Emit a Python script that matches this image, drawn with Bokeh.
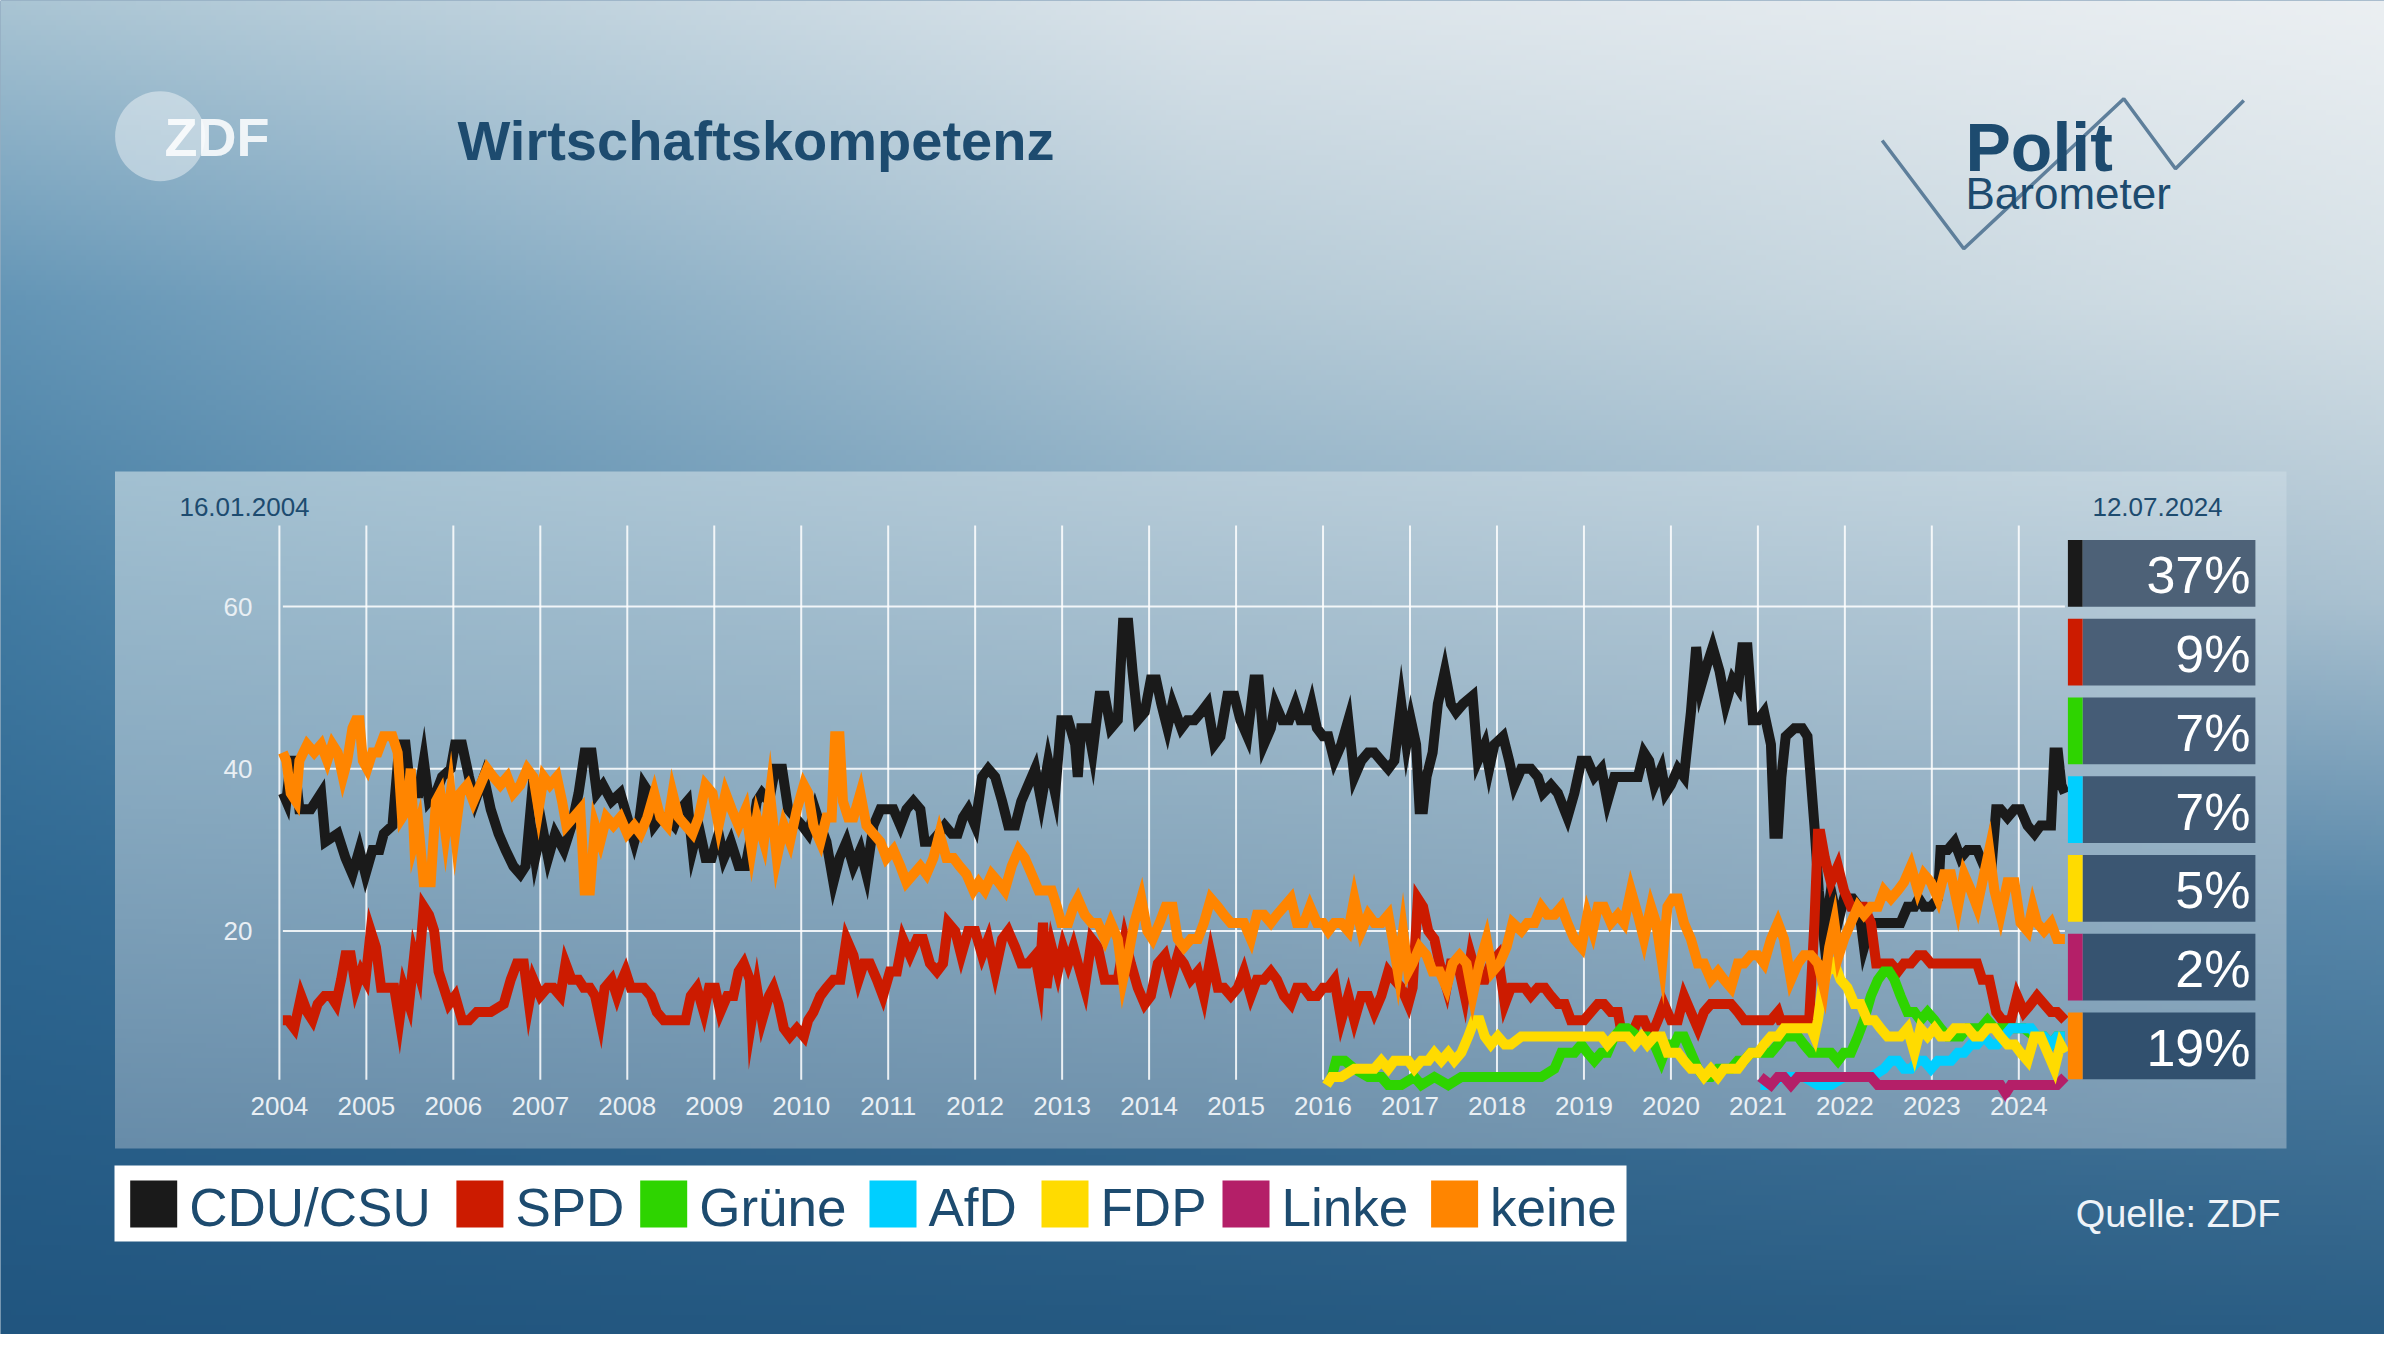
import numpy as np
from bokeh.plotting import figure
from bokeh.models import Range1d, LinearAxis, FixedTicker
from bokeh.core.properties import value
from bokeh.embed import file_html
from bokeh.resources import INLINE

# ---------------- data ----------------
TITLE = "Wirtschaftskompetenz"
FIRST_DATE = "16.01.2004"
LAST_DATE = "12.07.2024"
SOURCE = "Quelle: ZDF"

parties = ["CDU/CSU", "SPD", "Grüne", "AfD", "FDP", "Linke", "keine"]
party_colors = ["#1a1a1a", "#cc1b00", "#2ed400", "#00cfff", "#ffdb00", "#b41f68", "#ff8500"]

year_ticks = list(range(2004, 2025))
value_ticks = [20, 40, 60]

# (decimal year, percent)
cdu = [
    (2004.04, 37), (2004.08, 36), (2004.13, 41), (2004.17, 41), (2004.23, 35), (2004.36, 35), (2004.48, 37),
    (2004.53, 31),
    (2004.67, 32), (2004.76, 29), (2004.84, 27), (2004.92, 30), (2004.99, 27), (2005.07, 30), (2005.15, 30),
    (2005.20, 32), (2005.30, 33), (2005.38, 43), (2005.45, 43), (2005.51, 37), (2005.60, 37), (2005.66, 41),
    (2005.72, 36), (2005.80, 37), (2005.87, 39), (2005.97, 40), (2006.02, 43), (2006.10, 43), (2006.18, 39),
    (2006.25, 36), (2006.35, 39), (2006.43, 35), (2006.52, 32), (2006.60, 30), (2006.69, 28), (2006.77, 27),
    (2006.83, 28), (2006.88, 34), (2006.94, 29), (2007.02, 33), (2007.09, 29), (2007.17, 32), (2007.27, 30),
    (2007.36, 33), (2007.44, 37), (2007.51, 42), (2007.59, 42), (2007.65, 37), (2007.72, 38), (2007.82, 36),
    (2007.92, 37),
    (2008.00, 34), (2008.08, 31), (2008.13, 33), (2008.19, 38), (2008.25, 37), (2008.31, 33), (2008.38, 34),
    (2008.46, 34), (2008.54, 33), (2008.61, 35), (2008.69, 36), (2008.75, 30), (2008.82, 33), (2008.90, 29),
    (2008.97, 29), (2009.05, 32), (2009.11, 29), (2009.19, 31), (2009.28, 28), (2009.36, 28), (2009.43, 32),
    (2009.49, 36), (2009.55, 37), (2009.63, 36), (2009.70, 40), (2009.78, 40), (2009.85, 35), (2009.93, 34),
    (2010.01, 33), (2010.08, 32), (2010.16, 35), (2010.22, 33), (2010.29, 31), (2010.37, 26), (2010.44, 29),
    (2010.52, 31), (2010.60, 28), (2010.68, 30), (2010.75, 27), (2010.83, 33), (2010.91, 35), (2010.98, 35),
    (2011.06, 35), (2011.14, 33), (2011.21, 35), (2011.29, 36), (2011.37, 35), (2011.42, 31), (2011.50, 31),
    (2011.58, 32), (2011.65, 33), (2011.73, 32), (2011.80, 32), (2011.86, 34), (2011.92, 35),
    (2012.00, 33), (2012.08, 39), (2012.15, 40), (2012.23, 39), (2012.31, 36), (2012.38, 33), (2012.46, 33),
    (2012.53, 36), (2012.61, 38), (2012.69, 40), (2012.76, 36), (2012.84, 41), (2012.92, 37), (2012.99, 46),
    (2013.07, 46), (2013.15, 43), (2013.18, 39), (2013.22, 45), (2013.30, 45), (2013.35, 42), (2013.43, 49),
    (2013.49, 49), (2013.56, 45), (2013.64, 46), (2013.70, 58), (2013.76, 58), (2013.81, 52), (2013.87, 46),
    (2013.95, 47), (2014.02, 51), (2014.08, 51), (2014.14, 48), (2014.21, 45), (2014.27, 48), (2014.37, 45),
    (2014.44, 46), (2014.52, 46), (2014.60, 47), (2014.67, 48), (2014.75, 43), (2014.82, 44), (2014.90, 49),
    (2014.98, 49), (2015.05, 46), (2015.13, 44), (2015.21, 51), (2015.26, 51), (2015.32, 43), (2015.40, 45),
    (2015.45, 48), (2015.53, 46), (2015.61, 46), (2015.68, 48), (2015.74, 46), (2015.82, 46), (2015.87, 48),
    (2015.93, 45),
    (2016.00, 44), (2016.06, 44), (2016.13, 41), (2016.21, 43), (2016.29, 46), (2016.36, 39), (2016.44, 41),
    (2016.52, 42), (2016.59, 42), (2016.67, 41), (2016.75, 40), (2016.82, 41), (2016.90, 48), (2016.96, 43),
    (2017.01, 46), (2017.07, 43), (2017.11, 35), (2017.15, 35), (2017.19, 39), (2017.26, 42), (2017.32, 48),
    (2017.40, 52),
    (2017.47, 48), (2017.53, 47), (2017.61, 48), (2017.72, 49), (2017.78, 41), (2017.86, 43), (2017.91, 40),
    (2017.97, 43), (2018.07, 44), (2018.14, 41), (2018.20, 38), (2018.28, 40), (2018.39, 40), (2018.47, 39),
    (2018.53, 37), (2018.62, 38), (2018.70, 37), (2018.81, 34), (2018.89, 37), (2018.97, 41), (2019.04, 41),
    (2019.12, 39), (2019.20, 40), (2019.27, 36), (2019.35, 39), (2019.50, 39), (2019.62, 39), (2019.69, 42),
    (2019.75, 41), (2019.81, 38), (2019.89, 40), (2019.94, 37),
    (2020.00, 38), (2020.08, 40), (2020.15, 39), (2020.23, 47), (2020.29, 55), (2020.34, 50), (2020.42, 53),
    (2020.48, 55), (2020.56, 52), (2020.63, 48), (2020.71, 51), (2020.77, 50), (2020.82, 55), (2020.88, 55),
    (2020.94, 46), (2021.00, 46), (2021.07, 47), (2021.15, 43), (2021.19, 32), (2021.23, 32), (2021.27, 39),
    (2021.32, 44),
    (2021.42, 45), (2021.51, 45), (2021.57, 44), (2021.65, 33), (2021.70, 25), (2021.76, 19), (2021.84, 25),
    (2021.92, 21), (2021.99, 24), (2022.09, 24), (2022.16, 23), (2022.22, 18), (2022.30, 21), (2022.39, 21),
    (2022.49, 21), (2022.57, 21), (2022.64, 21), (2022.72, 23), (2022.80, 23), (2022.85, 24), (2022.91, 23),
    (2022.99, 23), (2023.07, 24), (2023.10, 30), (2023.18, 30), (2023.26, 31), (2023.33, 29), (2023.41, 30),
    (2023.47, 30), (2023.52, 30), (2023.60, 28), (2023.68, 27), (2023.74, 35), (2023.79, 35), (2023.87, 34),
    (2023.95, 35), (2024.02, 35), (2024.10, 33), (2024.18, 32), (2024.25, 33), (2024.33, 33), (2024.37, 33),
    (2024.41, 42), (2024.45, 42), (2024.49, 38), (2024.53, 37),
]

spd = [
    (2004.04, 9), (2004.10, 9), (2004.17, 8), (2004.25, 12), (2004.32, 10), (2004.38, 9), (2004.44, 11),
    (2004.52, 12), (2004.59, 12), (2004.65, 11), (2004.71, 14), (2004.76, 17), (2004.82, 17), (2004.88, 13),
    (2004.94, 15), (2004.99, 14), (2005.05, 20), (2005.11, 18), (2005.17, 13), (2005.24, 13), (2005.32, 13),
    (2005.38, 9), (2005.43, 13), (2005.49, 11), (2005.55, 17), (2005.60, 15), (2005.66, 23), (2005.72, 22),
    (2005.78, 20), (2005.83, 15), (2005.89, 13), (2005.95, 11), (2006.02, 12), (2006.10, 9), (2006.18, 9),
    (2006.27, 10), (2006.43, 10), (2006.58, 11), (2006.66, 14), (2006.73, 16), (2006.81, 16), (2006.87, 11),
    (2006.92, 14), (2007.00, 12), (2007.08, 13), (2007.15, 13), (2007.23, 12), (2007.29, 16), (2007.36, 14),
    (2007.44, 14), (2007.50, 13), (2007.57, 13), (2007.63, 12), (2007.69, 9), (2007.74, 13), (2007.82, 14),
    (2007.88, 12), (2007.94, 14), (2007.98, 15),
    (2008.04, 13), (2008.11, 13), (2008.19, 13), (2008.27, 12), (2008.34, 10), (2008.42, 9), (2008.50, 9),
    (2008.59, 9), (2008.67, 9), (2008.73, 12), (2008.80, 13), (2008.88, 10), (2008.94, 13), (2009.01, 13),
    (2009.07, 10), (2009.15, 12), (2009.22, 12), (2009.28, 15), (2009.34, 16), (2009.41, 14), (2009.43, 9),
    (2009.49, 13), (2009.55, 9), (2009.63, 12), (2009.68, 13), (2009.74, 11), (2009.80, 8), (2009.87, 7),
    (2009.95, 8), (2010.03, 7), (2010.08, 9), (2010.14, 10), (2010.22, 12), (2010.29, 13), (2010.37, 14),
    (2010.45, 14), (2010.52, 19), (2010.60, 17), (2010.66, 14), (2010.72, 16), (2010.79, 16), (2010.87, 14),
    (2010.94, 12), (2011.02, 15), (2011.10, 15), (2011.17, 19), (2011.25, 17), (2011.33, 19), (2011.40, 19),
    (2011.48, 16), (2011.56, 15), (2011.63, 16), (2011.69, 21), (2011.77, 20), (2011.84, 17), (2011.92, 20),
    (2012.00, 20), (2012.08, 17), (2012.15, 19), (2012.23, 15), (2012.31, 19), (2012.38, 20), (2012.46, 18),
    (2012.53, 16), (2012.61, 16), (2012.69, 17), (2012.74, 14), (2012.78, 21), (2012.82, 13), (2012.88, 18),
    (2012.95, 15), (2013.01, 18), (2013.07, 16), (2013.13, 18), (2013.18, 16), (2013.26, 13), (2013.34, 19),
    (2013.41, 18), (2013.49, 14), (2013.56, 14), (2013.64, 14), (2013.72, 19), (2013.79, 16), (2013.87, 13),
    (2013.95, 11), (2014.02, 12), (2014.10, 16), (2014.18, 17), (2014.25, 14), (2014.33, 17), (2014.40, 16),
    (2014.48, 14), (2014.56, 15), (2014.63, 12), (2014.71, 17), (2014.79, 13), (2014.86, 13), (2014.94, 12),
    (2015.02, 13), (2015.09, 15), (2015.17, 12), (2015.24, 14), (2015.32, 14), (2015.40, 15), (2015.47, 14),
    (2015.55, 12), (2015.63, 11), (2015.70, 13), (2015.78, 13), (2015.85, 12), (2015.93, 12),
    (2016.00, 13), (2016.06, 13), (2016.13, 14), (2016.21, 9), (2016.29, 12), (2016.36, 9), (2016.44, 12),
    (2016.52, 12), (2016.59, 10), (2016.67, 12), (2016.75, 15), (2016.82, 14), (2016.90, 13), (2016.98, 11),
    (2017.03, 13), (2017.09, 24), (2017.15, 23), (2017.21, 20), (2017.28, 19), (2017.34, 16), (2017.42, 13),
    (2017.47, 16), (2017.55, 16), (2017.63, 12), (2017.70, 17), (2017.78, 14), (2017.86, 14), (2017.93, 16),
    (2018.01, 17), (2018.09, 11), (2018.16, 13), (2018.24, 13), (2018.32, 13), (2018.39, 12), (2018.47, 13),
    (2018.55, 13), (2018.62, 12), (2018.70, 11), (2018.78, 11), (2018.85, 9), (2019.00, 9), (2019.16, 11),
    (2019.23, 11), (2019.31, 10), (2019.39, 10), (2019.44, 7), (2019.54, 7), (2019.62, 9), (2019.69, 9),
    (2019.77, 7), (2019.85, 9), (2019.92, 11),
    (2020.00, 9), (2020.08, 9), (2020.15, 12), (2020.23, 10), (2020.31, 8), (2020.38, 10), (2020.46, 11),
    (2020.69, 11), (2020.77, 10), (2020.84, 9), (2021.15, 9), (2021.23, 10), (2021.26, 9), (2021.59, 9),
    (2021.65, 21), (2021.69, 32), (2021.72, 32), (2021.77, 29), (2021.84, 26), (2021.92, 28), (2021.99, 25),
    (2022.07, 23),
    (2022.15, 23), (2022.22, 23), (2022.30, 21), (2022.36, 16), (2022.43, 16), (2022.53, 16), (2022.61, 15),
    (2022.68, 16), (2022.76, 16), (2022.84, 17), (2022.91, 17), (2022.99, 16), (2023.07, 16), (2023.52, 16),
    (2023.58, 14), (2023.66, 14), (2023.74, 10), (2023.81, 9), (2023.91, 9), (2023.98, 12), (2024.06, 10),
    (2024.14, 11), (2024.21, 12), (2024.29, 11), (2024.37, 10), (2024.44, 10), (2024.53, 9),
]

gruene = [
    (2016.10, 2), (2016.15, 4), (2016.25, 4), (2016.36, 3), (2016.52, 2), (2016.67, 2), (2016.75, 1),
    (2016.90, 1), (2017.05, 2), (2017.13, 1), (2017.28, 2), (2017.44, 1), (2017.59, 2), (2017.74, 2),
    (2017.89, 2), (2018.05, 2), (2018.20, 2), (2018.35, 2), (2018.51, 2), (2018.66, 3), (2018.74, 5),
    (2018.81, 5), (2018.89, 5), (2018.97, 6), (2019.04, 5), (2019.12, 4), (2019.20, 5), (2019.27, 5),
    (2019.35, 7), (2019.43, 8), (2019.50, 8), (2019.62, 7), (2019.73, 7), (2019.81, 6), (2019.89, 4),
    (2019.96, 6), (2020.04, 6), (2020.08, 7), (2020.15, 7), (2020.23, 5), (2020.31, 3), (2020.38, 2),
    (2020.46, 2), (2020.54, 3), (2020.61, 3), (2020.69, 3), (2020.77, 4), (2020.84, 4), (2020.92, 5),
    (2021.00, 5), (2021.07, 5), (2021.15, 5), (2021.23, 6), (2021.30, 7), (2021.38, 7), (2021.46, 7),
    (2021.53, 6), (2021.61, 5), (2021.69, 5), (2021.76, 5), (2021.84, 5), (2021.92, 4), (2021.99, 5),
    (2022.07, 5), (2022.15, 7), (2022.22, 9), (2022.30, 12), (2022.38, 14), (2022.45, 15), (2022.51, 15),
    (2022.57, 14), (2022.64, 12), (2022.72, 10), (2022.80, 10), (2022.87, 9), (2022.95, 10), (2023.03, 9),
    (2023.10, 8), (2023.18, 7), (2023.26, 7), (2023.33, 7), (2023.41, 8), (2023.49, 8), (2023.56, 8),
    (2023.64, 9), (2023.72, 8), (2023.79, 8), (2023.87, 8), (2023.95, 8), (2024.06, 8), (2024.18, 7),
    (2024.29, 7), (2024.37, 6), (2024.44, 7), (2024.53, 7),
]

afd = [
    (2021.03, 1), (2021.15, 1), (2021.26, 2), (2021.38, 2), (2021.46, 2), (2021.53, 2), (2021.69, 1),
    (2021.84, 1), (2021.99, 2), (2022.15, 2), (2022.30, 2), (2022.45, 3), (2022.53, 4), (2022.61, 4),
    (2022.68, 3), (2022.76, 3), (2022.84, 4), (2022.91, 4), (2022.99, 3), (2023.07, 4), (2023.14, 4),
    (2023.22, 4), (2023.30, 5), (2023.37, 5), (2023.45, 6), (2023.52, 6), (2023.60, 7), (2023.68, 6),
    (2023.75, 6), (2023.83, 7), (2023.91, 8), (2023.98, 8), (2024.06, 8), (2024.14, 8), (2024.21, 7),
    (2024.29, 7), (2024.37, 6), (2024.44, 7), (2024.53, 7),
]

fdp = [
    (2016.04, 1), (2016.10, 2), (2016.21, 2), (2016.36, 3), (2016.52, 3), (2016.59, 3), (2016.67, 4),
    (2016.75, 3), (2016.82, 4), (2016.98, 4), (2017.05, 3), (2017.13, 4), (2017.21, 4), (2017.28, 5),
    (2017.36, 4), (2017.44, 5), (2017.51, 4), (2017.59, 5), (2017.67, 7), (2017.74, 9), (2017.80, 9),
    (2017.86, 7), (2017.93, 6), (2018.01, 7), (2018.09, 6), (2018.16, 6), (2018.28, 7), (2018.39, 7),
    (2018.51, 7), (2018.58, 7), (2018.66, 7), (2018.74, 7), (2018.81, 7), (2018.89, 7), (2018.97, 7),
    (2019.04, 7), (2019.12, 7), (2019.20, 7), (2019.27, 6), (2019.35, 7), (2019.43, 7), (2019.50, 7),
    (2019.58, 6), (2019.66, 7), (2019.73, 6), (2019.81, 7), (2019.89, 7), (2019.96, 5),
    (2020.04, 5), (2020.08, 5), (2020.15, 4), (2020.23, 3), (2020.31, 3), (2020.38, 2), (2020.46, 3),
    (2020.54, 2), (2020.61, 3), (2020.69, 3), (2020.77, 3), (2020.84, 4), (2020.92, 5), (2021.00, 5),
    (2021.07, 6), (2021.15, 7), (2021.23, 7), (2021.30, 8), (2021.38, 8), (2021.53, 8), (2021.61, 8),
    (2021.65, 7), (2021.69, 9), (2021.74, 13), (2021.80, 15), (2021.88, 16), (2021.95, 14), (2022.03, 13),
    (2022.11, 11), (2022.18, 11), (2022.26, 9), (2022.34, 9), (2022.41, 8), (2022.49, 7), (2022.64, 7),
    (2022.72, 8), (2022.80, 5), (2022.87, 8), (2022.95, 7), (2023.03, 8), (2023.10, 7), (2023.18, 7),
    (2023.26, 8), (2023.33, 8), (2023.41, 8), (2023.49, 7), (2023.56, 7), (2023.64, 8), (2023.72, 8),
    (2023.79, 7), (2023.87, 6), (2023.95, 6), (2024.02, 5), (2024.10, 4), (2024.18, 7), (2024.25, 7),
    (2024.33, 5), (2024.41, 3), (2024.48, 6), (2024.53, 5),
]

linke = [
    (2021.03, 2), (2021.15, 1), (2021.23, 2), (2021.30, 2), (2021.38, 1), (2021.46, 2), (2021.53, 2),
    (2021.69, 2), (2021.84, 2), (2021.99, 2), (2022.15, 2), (2022.30, 2), (2022.38, 1), (2022.68, 1),
    (2023.07, 1), (2023.45, 1), (2023.79, 1), (2023.85, 0), (2023.91, 1), (2024.21, 1), (2024.44, 1),
    (2024.53, 2),
]

keine = [
    (2004.04, 42), (2004.08, 41), (2004.13, 37), (2004.19, 36), (2004.23, 41), (2004.32, 43), (2004.40, 42),
    (2004.48, 43), (2004.55, 41), (2004.61, 43), (2004.67, 42), (2004.73, 39), (2004.78, 41), (2004.84, 45),
    (2004.88, 46), (2004.92, 46), (2004.96, 41), (2005.01, 40), (2005.07, 42), (2005.13, 42), (2005.20, 44),
    (2005.30, 44),
    (2005.36, 42), (2005.41, 34), (2005.47, 35), (2005.51, 40), (2005.55, 31), (2005.60, 33), (2005.66, 26),
    (2005.74, 26), (2005.80, 36), (2005.85, 37), (2005.91, 32), (2005.97, 37), (2006.02, 32), (2006.08, 37),
    (2006.16, 38), (2006.23, 36), (2006.31, 38), (2006.39, 40), (2006.46, 39), (2006.54, 38), (2006.62, 39),
    (2006.69, 37), (2006.77, 38), (2006.85, 40), (2006.92, 39), (2006.98, 35), (2007.04, 39), (2007.11, 38),
    (2007.19, 39), (2007.25, 36), (2007.30, 33), (2007.38, 34), (2007.46, 35), (2007.51, 25), (2007.57, 25),
    (2007.63, 33), (2007.69, 31), (2007.76, 34), (2007.84, 33), (2007.92, 34),
    (2008.00, 32), (2008.08, 33), (2008.15, 32), (2008.23, 34), (2008.31, 37), (2008.38, 34), (2008.46, 33),
    (2008.52, 37), (2008.59, 34), (2008.67, 33), (2008.75, 32), (2008.82, 34), (2008.90, 38), (2008.98, 37),
    (2009.05, 33), (2009.13, 37), (2009.20, 35), (2009.28, 33), (2009.36, 35), (2009.43, 30), (2009.49, 34),
    (2009.57, 31), (2009.64, 37), (2009.72, 29), (2009.80, 33), (2009.87, 31), (2009.95, 35), (2010.03, 38),
    (2010.08, 37), (2010.14, 33), (2010.22, 31), (2010.29, 34), (2010.35, 34), (2010.39, 44), (2010.44, 44),
    (2010.48, 36),
    (2010.54, 34), (2010.60, 34), (2010.68, 37), (2010.75, 33), (2010.83, 32), (2010.91, 31), (2010.98, 29),
    (2011.06, 30), (2011.14, 28), (2011.21, 26), (2011.29, 27), (2011.37, 28), (2011.44, 27), (2011.52, 29),
    (2011.59, 32), (2011.67, 29), (2011.75, 29), (2011.82, 28), (2011.90, 27), (2011.98, 25),
    (2012.04, 26), (2012.11, 25), (2012.19, 27), (2012.27, 26), (2012.34, 25), (2012.42, 28), (2012.50, 30),
    (2012.57, 29), (2012.65, 27), (2012.73, 25), (2012.80, 25), (2012.88, 25), (2012.94, 23), (2012.99, 21),
    (2013.07, 21), (2013.13, 23), (2013.18, 24), (2013.26, 22), (2013.34, 21), (2013.41, 21), (2013.49, 19),
    (2013.56, 21), (2013.64, 19), (2013.70, 14), (2013.76, 17), (2013.83, 21), (2013.91, 24), (2013.98, 20),
    (2014.04, 19), (2014.12, 21), (2014.19, 23), (2014.27, 23), (2014.33, 19), (2014.40, 18), (2014.48, 19),
    (2014.56, 19), (2014.63, 21), (2014.71, 24), (2014.79, 23), (2014.86, 22), (2014.94, 21), (2015.02, 21),
    (2015.09, 21), (2015.17, 19), (2015.24, 22), (2015.32, 22), (2015.40, 21), (2015.47, 22), (2015.55, 23),
    (2015.63, 24), (2015.70, 21), (2015.78, 21), (2015.85, 23), (2015.93, 21),
    (2016.00, 21), (2016.06, 20), (2016.13, 21), (2016.21, 21), (2016.29, 20), (2016.36, 24), (2016.44, 20),
    (2016.52, 22), (2016.59, 21), (2016.67, 21), (2016.75, 22), (2016.80, 19), (2016.86, 15), (2016.92, 20),
    (2016.98, 15), (2017.03, 16), (2017.11, 18), (2017.19, 17), (2017.26, 15), (2017.34, 15), (2017.42, 13),
    (2017.49, 16), (2017.57, 17), (2017.65, 16), (2017.72, 12), (2017.80, 16), (2017.88, 19), (2017.95, 15),
    (2018.03, 16), (2018.11, 18), (2018.18, 21), (2018.28, 20), (2018.35, 21), (2018.43, 21), (2018.51, 23),
    (2018.58, 22), (2018.66, 22), (2018.74, 23), (2018.81, 21), (2018.89, 19), (2018.97, 18), (2019.04, 22),
    (2019.10, 20), (2019.16, 23), (2019.23, 23), (2019.31, 21), (2019.39, 22), (2019.46, 21), (2019.54, 25),
    (2019.62, 22), (2019.69, 19), (2019.77, 23), (2019.83, 21), (2019.90, 16), (2019.96, 23),
    (2020.02, 24), (2020.08, 24), (2020.15, 21), (2020.23, 19), (2020.31, 16), (2020.38, 16), (2020.46, 14),
    (2020.54, 15), (2020.61, 14), (2020.69, 13), (2020.77, 16), (2020.84, 16), (2020.92, 17), (2021.00, 17),
    (2021.07, 16), (2021.15, 19), (2021.23, 21), (2021.30, 19), (2021.38, 14), (2021.46, 16), (2021.53, 17),
    (2021.61, 17), (2021.69, 16), (2021.76, 13), (2021.82, 18), (2021.88, 21), (2021.93, 17), (2021.99, 19),
    (2022.07, 21), (2022.15, 23), (2022.22, 22), (2022.30, 23), (2022.38, 23), (2022.45, 25), (2022.53, 24),
    (2022.61, 25), (2022.68, 26), (2022.76, 28), (2022.84, 25), (2022.91, 27), (2022.99, 26), (2023.07, 24),
    (2023.14, 27), (2023.22, 27), (2023.30, 23), (2023.37, 27), (2023.45, 25), (2023.52, 23), (2023.60, 27),
    (2023.66, 30), (2023.72, 25), (2023.79, 22), (2023.87, 26), (2023.95, 26), (2024.02, 21), (2024.10, 20),
    (2024.16, 23), (2024.21, 21), (2024.29, 20), (2024.37, 21), (2024.44, 19), (2024.53, 19),
]

series = [cdu, spd, gruene, afd, fdp, linke, keine]

# ---------------- layout (reference pixel space, origin top-left) ----------------
W, H = 2384, 1334
X_2004, PX_YEAR = 278.9, 86.97
Y_ZERO, PX_UNIT = 1092.7, 8.11


def Y(ref_y):                 # reference y (top-down) -> "py" range (bottom-up)
    return H - ref_y


x_lo = 2004 - X_2004 / PX_YEAR
x_hi = 2004 + (W - X_2004) / PX_YEAR
y_lo = -(H - Y_ZERO) / PX_UNIT
y_hi = Y_ZERO / PX_UNIT

p = figure(width=W, height=H, x_range=Range1d(x_lo, x_hi), y_range=Range1d(y_lo, y_hi),
           x_axis_type=None, y_axis_type=None, toolbar_location=None, output_backend="svg",
           min_border=0, outline_line_color=None, background_fill_color="#2a5d85",
           border_fill_color="#2a5d85")
p.extra_x_ranges = {"px": Range1d(0, W)}
p.extra_y_ranges = {"py": Range1d(0, H)}
PX = dict(x_range_name="px", y_range_name="py")


def hex2rgb(h):
    return [int(h[i:i + 2], 16) for i in (1, 3, 5)]


def gradient(xa, xb, ya, yb, nx, ny, xc, yc, rows):
    xs = np.linspace(xa, xb, nx)
    ys = np.linspace(ya, yb, ny)
    ctrl = np.array([[hex2rgb(c) for c in r] for r in rows], float)
    tmp = np.zeros((len(yc), nx, 3))
    for j in range(len(yc)):
        for k in range(3):
            tmp[j, :, k] = np.interp(xs, xc, ctrl[j, :, k])
    out = np.zeros((ny, nx, 3))
    for i in range(nx):
        for k in range(3):
            out[:, i, k] = np.interp(ys, yc, tmp[:, i, k])
    img = np.empty((ny, nx), dtype=np.uint32)
    view = img.view(dtype=np.uint8).reshape((ny, nx, 4))
    view[..., :3] = np.clip(np.round(out), 0, 255).astype(np.uint8)
    view[..., 3] = 255
    return img[::-1]


# page background
bg = gradient(0, 2400, 0, 1350, 480, 270, [0, 1200, 2400], [0, 300, 600, 900, 1350],
              [["#a9c4d3", "#dbe4ea", "#ebeff2"],
               ["#6294b5", "#b2c8d5", "#d5e0e6"],
               ["#417aa1", "#80a6bf", "#aac1d0"],
               ["#2e6791", "#42769d", "#5887a9"],
               ["#20547e", "#23577f", "#285b82"]])
p.image_rgba(image=[bg], x=0, y=Y(1350), dw=2400, dh=1350, **PX)

# chart panel
PL, PR, PT, PB = 114.5, 2286, 471, 1148
pg = gradient(PL, PR, PT, PB, 434, 136, [PL, 1200, PR], [PT, 800, PB],
              [["#a2c0d1", "#b6cbd8", "#c4d5df"],
               ["#86a8bf", "#8fadc1", "#99b4c7"],
               ["#678ca9", "#6d90ab", "#799ab3"]])
p.image_rgba(image=[pg], x=PL, y=Y(PB), dw=PR - PL, dh=PB - PT, **PX)

# grid (bounded like the original)
first_t = cdu[0][0]
last_t = cdu[-1][0]
p.segment(x0=year_ticks, y0=[1.65] * len(year_ticks), x1=year_ticks, y1=[70] * len(year_ticks),
          line_color="white", line_alpha=0.85, line_width=2)
p.segment(x0=[first_t] * len(value_ticks), y0=value_ticks, x1=[last_t] * len(value_ticks), y1=value_ticks,
          line_color="white", line_alpha=0.85, line_width=2)

# lines
draw_order = [0, 1, 2, 3, 5, 4, 6]
for i in draw_order:
    s = series[i]
    p.line(x=[t for t, v in s], y=[v for t, v in s], line_color=party_colors[i], line_width=10,
           line_join="miter")

# axes (inside the panel)
xaxis = LinearAxis(fixed_location=0, ticker=FixedTicker(ticks=year_ticks),
                   axis_line_color=None, major_tick_line_color=None, minor_tick_line_color=None,
                   major_tick_in=0, major_tick_out=0, major_label_standoff=4,
                   major_label_text_color="#e9eff4", major_label_text_font="Liberation Sans",
                   major_label_text_font_size="26px")
p.add_layout(xaxis, "below")
yaxis = LinearAxis(fixed_location=2004, ticker=FixedTicker(ticks=value_ticks),
                   axis_line_color=None, major_tick_line_color=None, minor_tick_line_color=None,
                   major_tick_in=0, major_tick_out=0, major_label_standoff=27,
                   major_label_text_color="#e9eff4", major_label_text_font="Liberation Sans",
                   major_label_text_font_size="26px")
p.add_layout(yaxis, "left")


def txt(x, y, s, size, color, align="left", style="normal", alpha=1.0, font="Liberation Sans"):
    # y = vertical centre of the capital letters (reference pixels)
    p.text(x=[x], y=[Y(y)], text=[s], text_font=value(font), text_font_size=f"{size}px",
           text_color=color, text_align=align, text_baseline="middle", text_font_style=style,
           text_alpha=alpha, **PX)


NAVY = "#1d4b6f"

# date labels
txt(244, 506, FIRST_DATE, 26, NAVY, align="center")
txt(2157, 506, LAST_DATE, 26, NAVY, align="center")

# latest value boxes
BOX_TOP, BOX_PITCH, BOX_H = 539.4, 78.77, 66.8
SX0, SX1, BX1 = 2067.4, 2082.1, 2254.9
box_fill = ["#4d6177", "#4a5f77", "#455c76", "#405973", "#3b5672", "#365370", "#31506e"]
for i, s in enumerate(series):
    top = BOX_TOP + i * BOX_PITCH
    bot = top + BOX_H
    p.quad(left=[SX1], right=[BX1], top=[Y(top)], bottom=[Y(bot)], fill_color=box_fill[i],
           line_color=None, **PX)
    p.quad(left=[SX0], right=[SX1], top=[Y(top)], bottom=[Y(bot)], fill_color=party_colors[i],
           line_color=None, **PX)
    txt(2250, top + BOX_H / 2 + 2, f"{s[-1][1]}%", 52, "white", align="right")

# legend
p.quad(left=[114], right=[1626], top=[Y(1165)], bottom=[Y(1241)], fill_color="white",
       line_color=None, **PX)
sw_left = [129.7, 455.9, 639.7, 869.0, 1041.0, 1222.0, 1430.6]
for i, name in enumerate(parties):
    p.quad(left=[sw_left[i]], right=[sw_left[i] + 47], top=[Y(1180)], bottom=[Y(1227)],
           fill_color=party_colors[i], line_color=None, **PX)
    txt(sw_left[i] + 59, 1207, name, 53, NAVY)

# source
txt(2280, 1213, SOURCE, 38, "#eef3f8", align="right")

# title
txt(457, 140, TITLE, 56, NAVY, style="bold")

# ZDF logo
p.circle(x=[159.6], y=[Y(135.8)], radius=45, fill_color="white", fill_alpha=0.42, line_color=None, **PX)
txt(164, 136, "ZDF", 54, "white", style="bold", alpha=0.85)

# Politbarometer logo
p.line(x=[1881.7, 1963.3, 2123.3, 2175.0, 2243.3], y=[Y(140), Y(248.3), Y(98.3), Y(168.3), Y(100)],
       line_color="#5e7f9b", line_width=3.5, **PX)
txt(1965, 146, "Polit", 68, NAVY, style="bold")
txt(1965, 193, "Barometer", 44, NAVY)

open("out.html", "w").write(file_html(p, INLINE))
